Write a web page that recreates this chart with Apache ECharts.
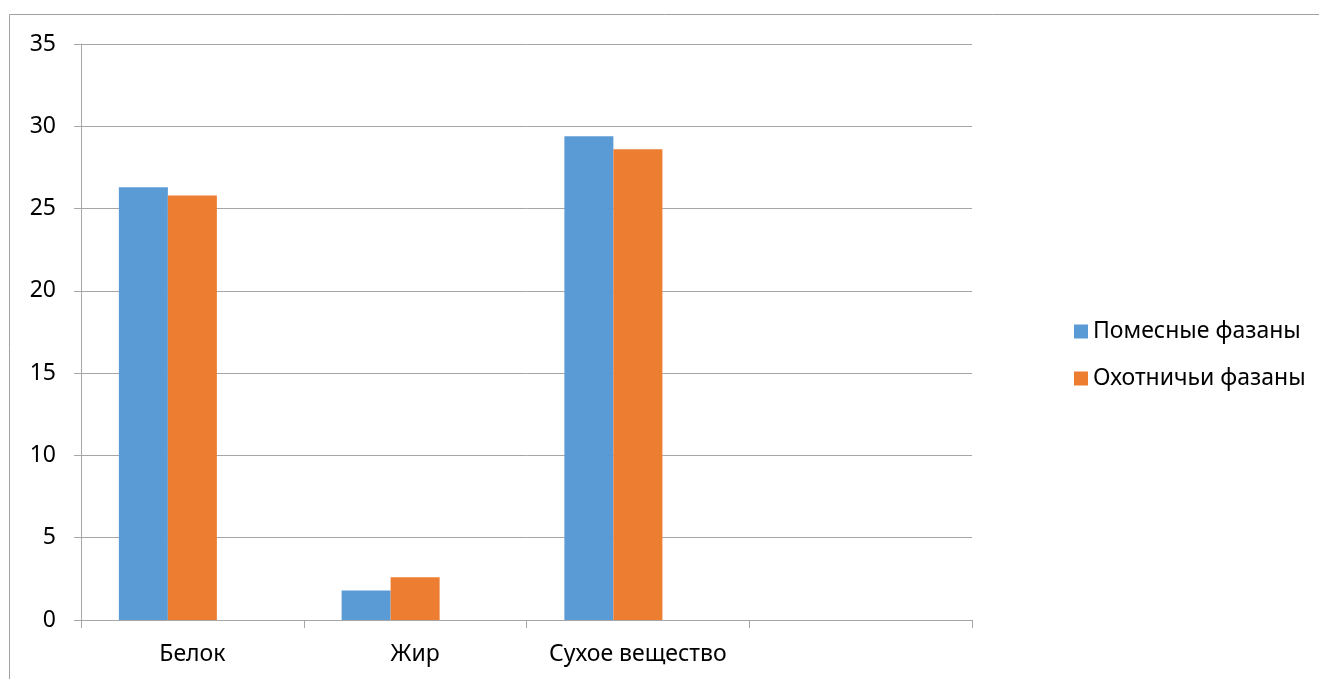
<!DOCTYPE html>
<html>
<head>
<meta charset="utf-8">
<script src="https://cdn.jsdelivr.net/npm/echarts@6/dist/echarts.min.js"></script>
<style>
  html, body { margin: 0; padding: 0; background: #fff; }
  #chart { width: 1319px; height: 679px; }
</style>
</head>
<body>
<div id="chart"></div>
<script>
// Состав мяса фазанов, %
const categories = ['Белок', 'Жир', 'Сухое вещество', ''];
const seriesNames = ['Помесные фазаны', 'Охотничьи фазаны'];
const crossbred = [26.3, 1.8, 29.4, null];
const hunting = [25.8, 2.6, 28.6, null];
// third column slot is reserved but holds no values
const reserved = [null, null, null, null];
const colors = ['#5B9BD5', '#ED7D31', '#A5A5A5'];

const FONT = 'Noto Sans';
const FS = 23;
const GAP = '34%';
const chart = echarts.init(document.getElementById('chart'), null, { renderer: 'canvas' });

chart.setOption({
  animation: false,
  backgroundColor: '#ffffff',
  textStyle: { fontFamily: FONT },
  graphic: [{
    type: 'rect',
    shape: { x: 9.5, y: 14.5, width: 1400, height: 800 },
    style: { fill: 'none', stroke: '#a0a0a0', lineWidth: 1 },
    silent: true
  }],
  grid: { left: 81, right: 347, top: 44, bottom: 59, containLabel: false },
  legend: {
    orient: 'vertical',
    left: 1069,
    top: 315,
    itemWidth: 14,
    itemHeight: 14,
    itemGap: 24,
    icon: 'rect',
    textStyle: { fontFamily: FONT, fontSize: FS, color: '#000' },
    data: seriesNames
  },
  xAxis: {
    type: 'category',
    data: categories,
    axisLine: { lineStyle: { color: '#a6a6a6', width: 1 } },
    axisTick: { show: true, length: 8, interval: 0, alignWithLabel: false, lineStyle: { color: '#a6a6a6' } },
    axisLabel: { fontFamily: FONT, fontSize: FS, color: '#000', margin: 23, interval: 0, hideOverlap: false }
  },
  yAxis: {
    type: 'value',
    min: 0,
    max: 35,
    interval: 5,
    axisLine: { show: true, lineStyle: { color: '#a6a6a6', width: 1 } },
    axisTick: { show: true, length: 7, inside: false, lineStyle: { color: '#a6a6a6' } },
    axisLabel: { fontFamily: FONT, fontSize: FS, color: '#000', margin: 25 },
    splitLine: { show: true, lineStyle: { color: '#a6a6a6', width: 1 } }
  },
  series: [
    {
      name: seriesNames[0],
      type: 'bar',
      data: crossbred,
      itemStyle: { color: colors[0] },
      barGap: '0%',
      barCategoryGap: GAP
    },
    {
      name: seriesNames[1],
      type: 'bar',
      data: hunting,
      itemStyle: { color: colors[1] },
      barGap: '0%',
      barCategoryGap: GAP
    },
    {
      name: 'reserved',
      type: 'bar',
      data: reserved,
      itemStyle: { color: colors[2] },
      barGap: '0%',
      barCategoryGap: GAP
    }
  ]
});
</script>
</body>
</html>
